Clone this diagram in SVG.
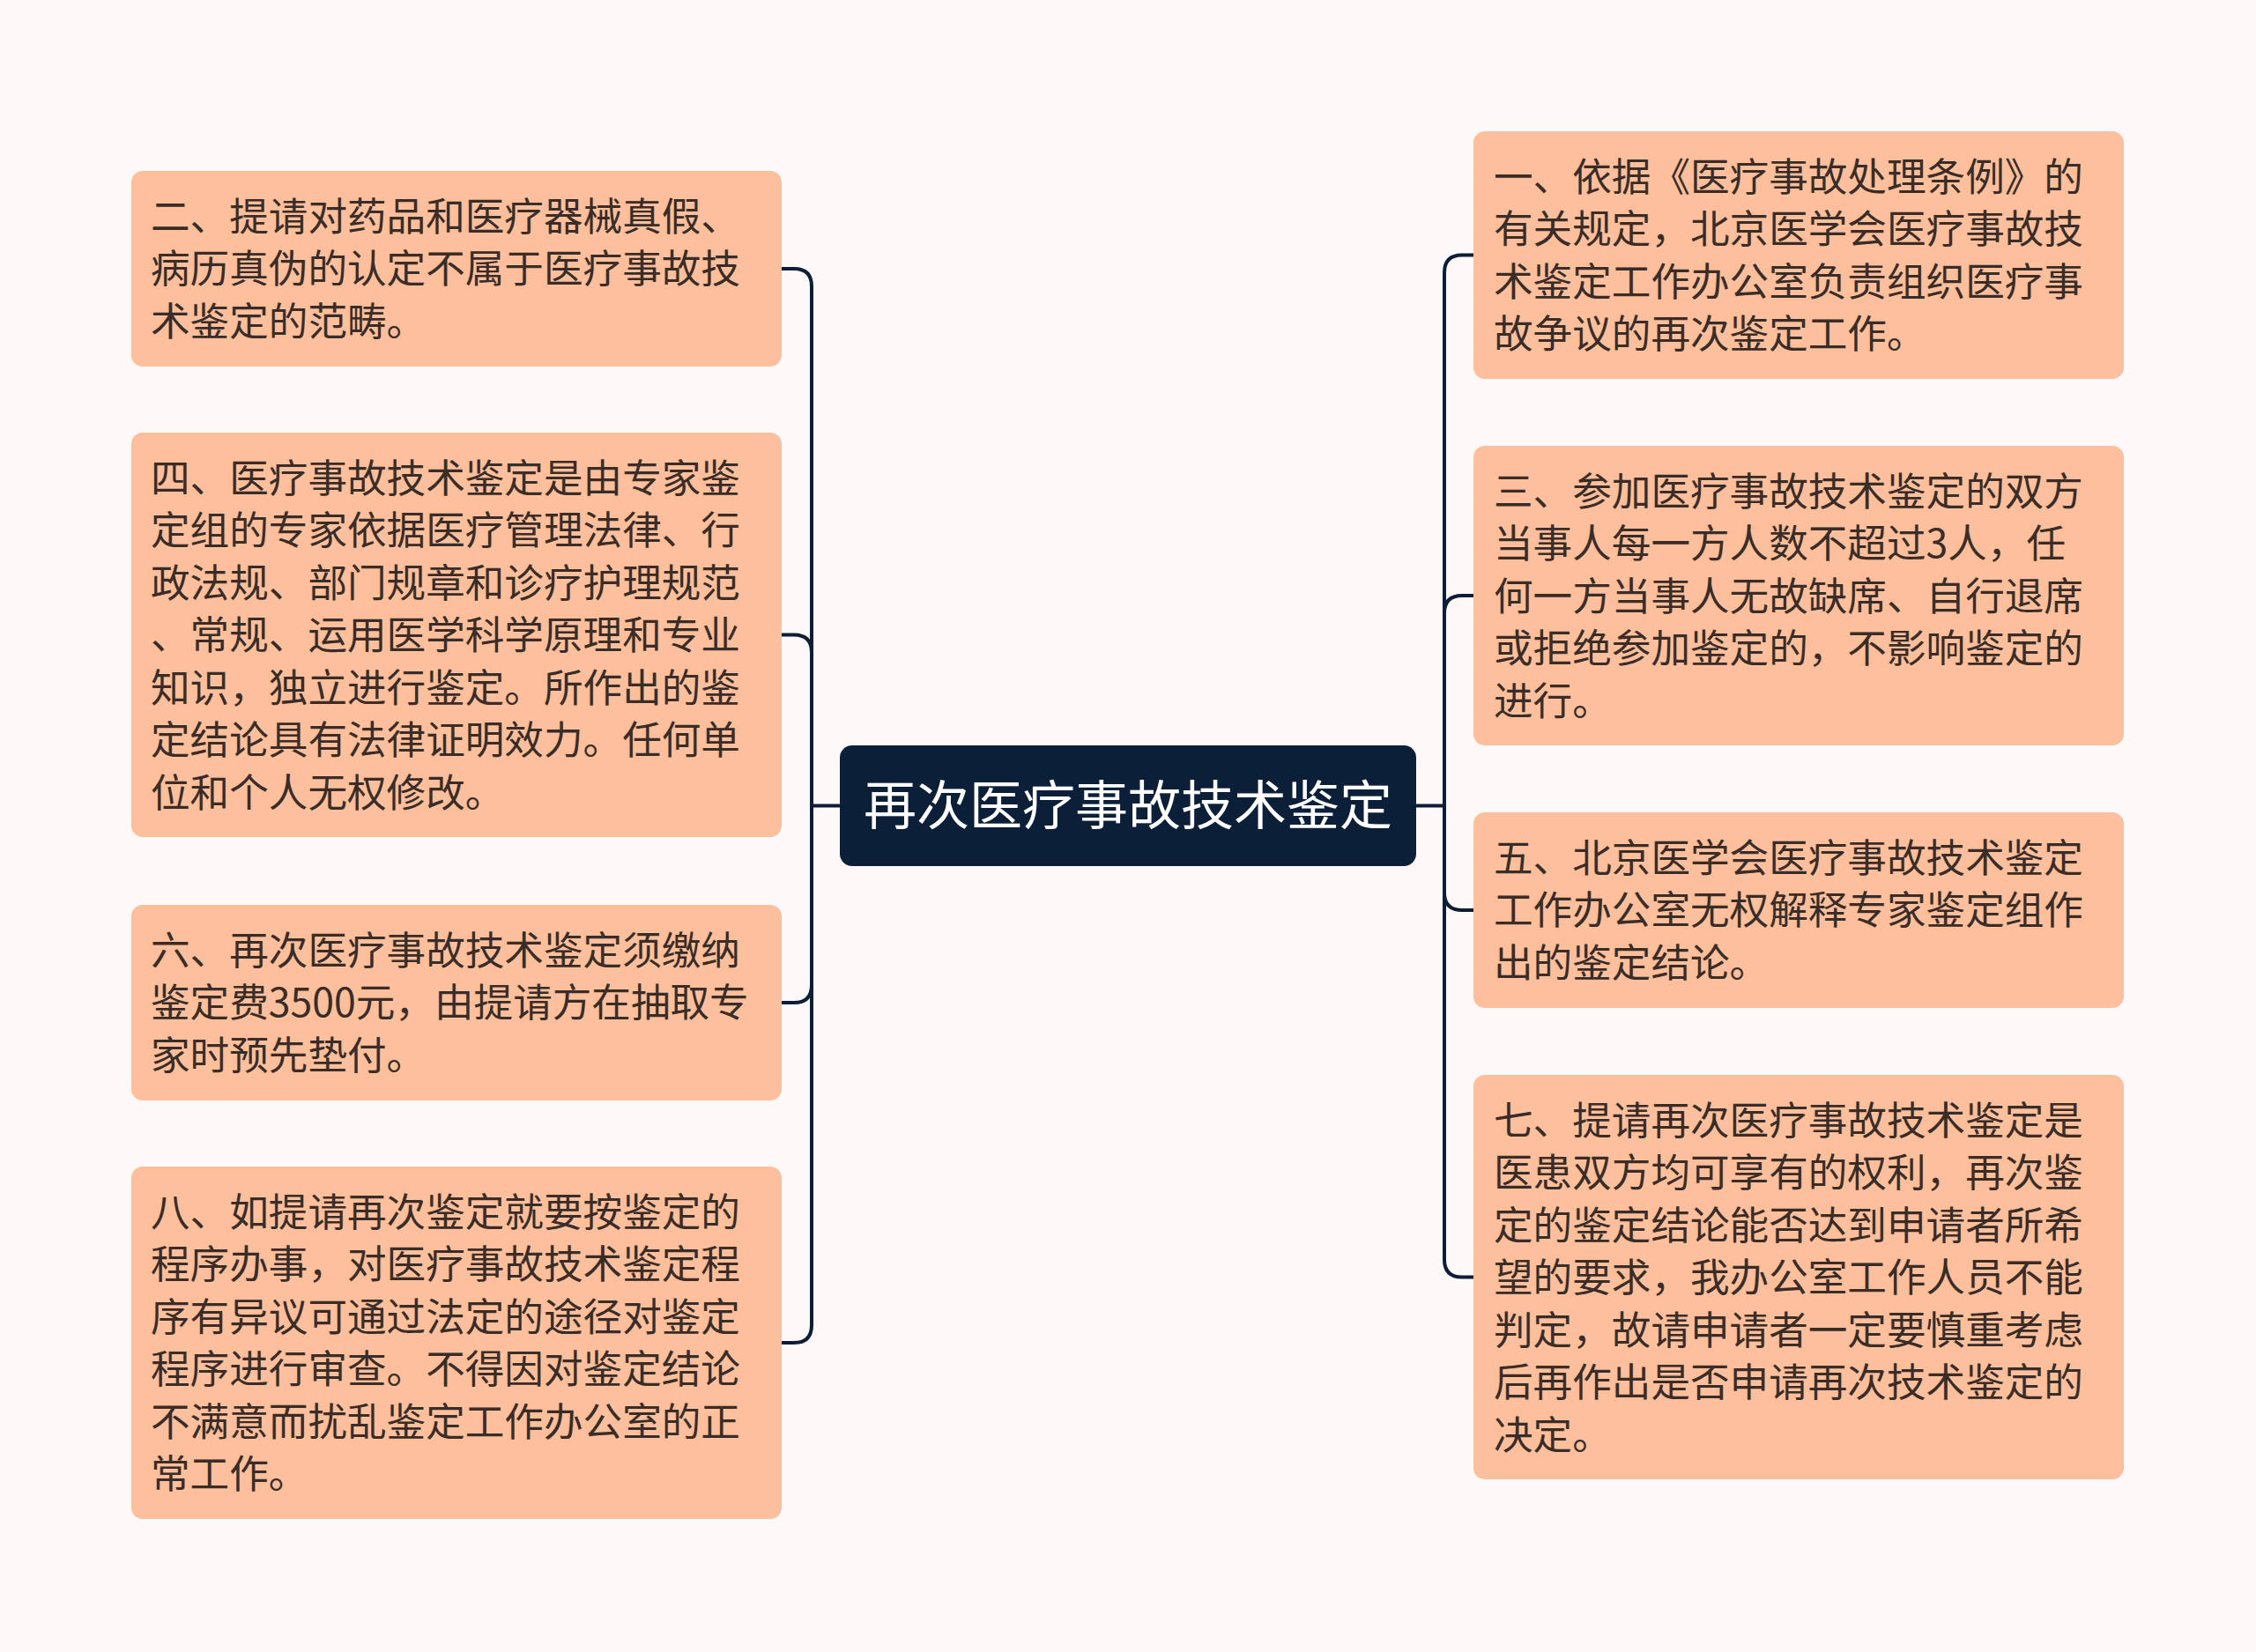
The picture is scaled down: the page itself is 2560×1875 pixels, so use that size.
<svg xmlns="http://www.w3.org/2000/svg" width="2560" height="1875" viewBox="0 0 2560 1875">
<style>
.bg{fill:#fdf9f8}
.node{fill:#fdbf9c}
.root{fill:#0c1f38}
.t{font-family:"Noto Sans CJK SC","Noto Sans",sans-serif;font-size:44.6px;fill:#3a2c26}
.rt{font-family:"Noto Sans CJK SC","Noto Sans",sans-serif;font-size:60px;fill:#ffffff}
.c{fill:none;stroke:#0e1e36;stroke-width:4;stroke-linecap:round;stroke-linejoin:round}
</style>
<rect class="bg" x="0" y="0" width="2560" height="1875"/>
<g id="connectors">
<path class="c" d="M953 914.5 H921"/>
<path class="c" d="M921 914.5 V325 Q921 305 901 305 H887"/>
<path class="c" d="M921 914.5 V740.5 Q921 720.5 901 720.5 H887"/>
<path class="c" d="M921 914.5 V1118 Q921 1138 901 1138 H887"/>
<path class="c" d="M921 914.5 V1504 Q921 1524 901 1524 H887"/>
<path class="c" d="M1607 914.5 H1639"/>
<path class="c" d="M1639 914.5 V309.5 Q1639 289.5 1659 289.5 H1672"/>
<path class="c" d="M1639 914.5 V696 Q1639 676 1659 676 H1672"/>
<path class="c" d="M1639 914.5 V1013 Q1639 1033 1659 1033 H1672"/>
<path class="c" d="M1639 914.5 V1429.5 Q1639 1449.5 1659 1449.5 H1672"/>
</g>
<g id="root">
<rect class="root" x="953" y="846" width="654" height="137" rx="14"/>
<text class="rt" x="1280" y="936" text-anchor="middle">再次医疗事故技术鉴定</text>
</g>
<g id="node-2">
<rect class="node" x="149" y="194" width="738" height="222" rx="13"/>
<text class="t" x="171" y="261.5"><tspan x="171">二、提请对药品和医疗器械真假、</tspan><tspan x="171" dy="59.5">病历真伪的认定不属于医疗事故技</tspan><tspan x="171" dy="59.5">术鉴定的范畴。</tspan></text>
</g>
<g id="node-4">
<rect class="node" x="149" y="491" width="738" height="459" rx="13"/>
<text class="t" x="171" y="558.5"><tspan x="171">四、医疗事故技术鉴定是由专家鉴</tspan><tspan x="171" dy="59.5">定组的专家依据医疗管理法律、行</tspan><tspan x="171" dy="59.5">政法规、部门规章和诊疗护理规范</tspan><tspan x="171" dy="59.5">、常规、运用医学科学原理和专业</tspan><tspan x="171" dy="59.5">知识，独立进行鉴定。所作出的鉴</tspan><tspan x="171" dy="59.5">定结论具有法律证明效力。任何单</tspan><tspan x="171" dy="59.5">位和个人无权修改。</tspan></text>
</g>
<g id="node-6">
<rect class="node" x="149" y="1027" width="738" height="222" rx="13"/>
<text class="t" x="171" y="1094.5"><tspan x="171">六、再次医疗事故技术鉴定须缴纳</tspan><tspan x="171" dy="59.5">鉴定费3500元，由提请方在抽取专</tspan><tspan x="171" dy="59.5">家时预先垫付。</tspan></text>
</g>
<g id="node-8">
<rect class="node" x="149" y="1324" width="738" height="400" rx="13"/>
<text class="t" x="171" y="1391.5"><tspan x="171">八、如提请再次鉴定就要按鉴定的</tspan><tspan x="171" dy="59.5">程序办事，对医疗事故技术鉴定程</tspan><tspan x="171" dy="59.5">序有异议可通过法定的途径对鉴定</tspan><tspan x="171" dy="59.5">程序进行审查。不得因对鉴定结论</tspan><tspan x="171" dy="59.5">不满意而扰乱鉴定工作办公室的正</tspan><tspan x="171" dy="59.5">常工作。</tspan></text>
</g>
<g id="node-1">
<rect class="node" x="1672" y="149" width="738" height="281" rx="13"/>
<text class="t" x="1695" y="216.5"><tspan x="1695">一、依据《医疗事故处理条例》的</tspan><tspan x="1695" dy="59.5">有关规定，北京医学会医疗事故技</tspan><tspan x="1695" dy="59.5">术鉴定工作办公室负责组织医疗事</tspan><tspan x="1695" dy="59.5">故争议的再次鉴定工作。</tspan></text>
</g>
<g id="node-3">
<rect class="node" x="1672" y="506" width="738" height="340" rx="13"/>
<text class="t" x="1695" y="573.5"><tspan x="1695">三、参加医疗事故技术鉴定的双方</tspan><tspan x="1695" dy="59.5">当事人每一方人数不超过3人，任</tspan><tspan x="1695" dy="59.5">何一方当事人无故缺席、自行退席</tspan><tspan x="1695" dy="59.5">或拒绝参加鉴定的，不影响鉴定的</tspan><tspan x="1695" dy="59.5">进行。</tspan></text>
</g>
<g id="node-5">
<rect class="node" x="1672" y="922" width="738" height="222" rx="13"/>
<text class="t" x="1695" y="989.5"><tspan x="1695">五、北京医学会医疗事故技术鉴定</tspan><tspan x="1695" dy="59.5">工作办公室无权解释专家鉴定组作</tspan><tspan x="1695" dy="59.5">出的鉴定结论。</tspan></text>
</g>
<g id="node-7">
<rect class="node" x="1672" y="1220" width="738" height="459" rx="13"/>
<text class="t" x="1695" y="1287.5"><tspan x="1695">七、提请再次医疗事故技术鉴定是</tspan><tspan x="1695" dy="59.5">医患双方均可享有的权利，再次鉴</tspan><tspan x="1695" dy="59.5">定的鉴定结论能否达到申请者所希</tspan><tspan x="1695" dy="59.5">望的要求，我办公室工作人员不能</tspan><tspan x="1695" dy="59.5">判定，故请申请者一定要慎重考虑</tspan><tspan x="1695" dy="59.5">后再作出是否申请再次技术鉴定的</tspan><tspan x="1695" dy="59.5">决定。</tspan></text>
</g>
</svg>
